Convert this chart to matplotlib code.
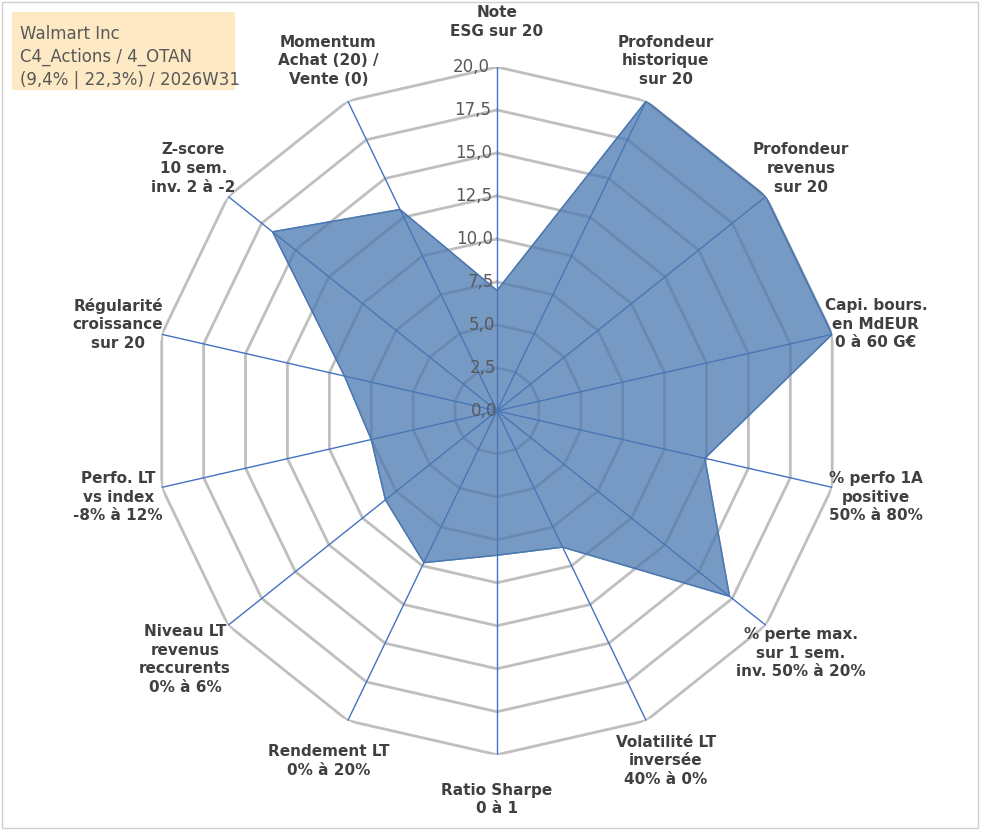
import numpy as np
import matplotlib.pyplot as plt
from matplotlib.patches import Rectangle

labels = ['Note\nESG sur 20', 'Profondeur\nhistorique\nsur 20', 'Profondeur\nrevenus\nsur 20',
          'Capi. bours.\nen MdEUR\n0 à 60 G€', '% perfo 1A\npositive\n50% à 80%',
          '% perte max.\nsur 1 sem.\ninv. 50% à 20%', 'Volatilité LT\ninversée\n40% à 0%',
          'Ratio Sharpe\n0 à 1', 'Rendement LT\n0% à 20%', 'Niveau LT\nrevenus\nreccurents\n0% à 6%',
          'Perfo. LT\nvs index\n-8% à 12%', 'Régularité\ncroissance\nsur 20',
          'Z-score\n10 sem.\ninv. 2 à -2', 'Momentum\nAchat (20) /\nVente (0)']
values = [7.0, 20.0, 20.0, 20.0, 12.4, 17.3, 8.8, 8.4, 9.8, 8.3, 7.5, 9.1, 16.7, 13.0]
ticks = [0, 2.5, 5, 7.5, 10, 12.5, 15, 17.5, 20]
title_lines = ['Walmart Inc', 'C4_Actions / 4_OTAN', '(9,4% | 22,3%) / 2026W31']

n = len(labels)
theta = np.arange(n) * 2 * np.pi / n
tc = np.append(theta, theta[0])

fig = plt.figure(figsize=(9.91, 8.3), dpi=100)
ax = fig.add_axes([0.1545, 0.0905, 0.694, 0.829], projection='polar')
ax.set_theta_offset(np.pi / 2)
ax.set_theta_direction(-1)
ax.set_ylim(0, 20)
ax.axis('off')

for t in ticks[1:]:
    ax.plot(tc, [t] * (n + 1), color='#bfbfbf', lw=2, zorder=1)
for th in theta:
    ax.plot([th, th], [0, 20], color='#4472c4', lw=1, zorder=2)

v = np.append(values, values[0])
ax.fill(tc, v, color='#4a78b0', alpha=0.75, zorder=3)
ax.plot(tc, v, color='#4a78b0', lw=1, zorder=3)

for t in ticks:
    ax.text(-0.02, t, f'{t:.1f}'.replace('.', ','), ha='right', va='center',
            fontsize=12, color='#595959', zorder=4)

for th, lab in zip(theta, labels):
    r = 22.6 if lab.count('\n') < 3 else 23.2
    ax.text(th, r, lab, ha='center', va='center', fontsize=11, fontweight='bold',
            color='#404040', linespacing=1.3, clip_on=False)

fig.patches.append(Rectangle((0.012, 0.892), 0.225, 0.094, transform=fig.transFigure,
                             facecolor='#fde9c4', edgecolor='none'))
fig.text(0.02, 0.97, '\n'.join(title_lines), ha='left', va='top', fontsize=12,
         color='#595959', linespacing=1.35)
fig.patches.append(Rectangle((0.002, 0.002), 0.985, 0.996, transform=fig.transFigure,
                             facecolor='none', edgecolor='#d0d0d0', lw=1))

plt.savefig('out.png', dpi=100)
